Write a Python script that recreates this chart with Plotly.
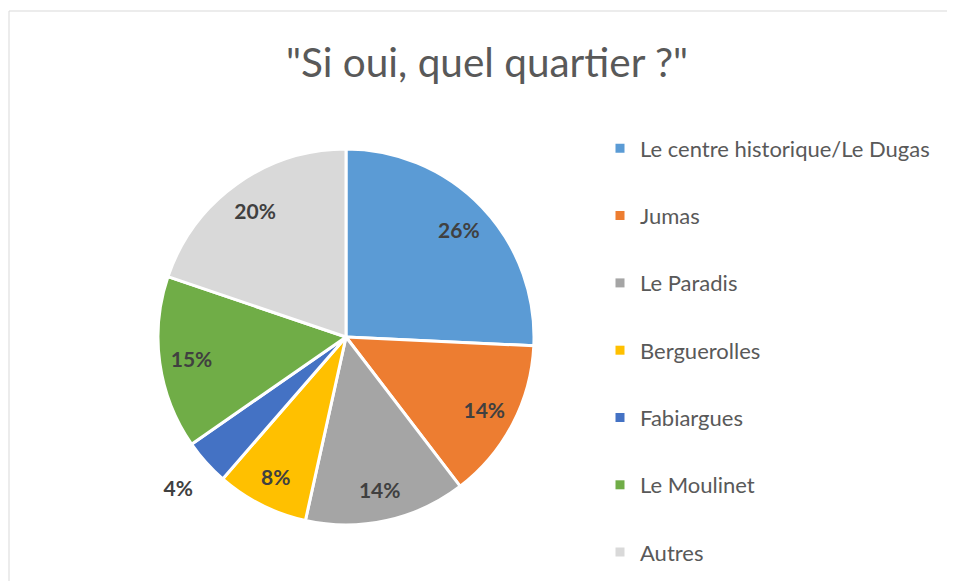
import plotly.graph_objects as go

labels = ["Le centre historique/Le Dugas", "Jumas", "Le Paradis", "Berguerolles",
          "Fabiargues", "Le Moulinet", "Autres"]
values = [26, 14, 14, 8, 4, 15, 20]
colors = ["#5B9BD5", "#ED7D31", "#A5A5A5", "#FFC000", "#4472C4", "#70AD47", "#D9D9D9"]
text_pos = ["inside", "inside", "inside", "inside", "outside", "inside", "inside"]

W, H = 947, 573  # page body has an 8px margin
FONT = "Lato"

cx, cy, R = 338, 329, 188
dom = dict(x=[(cx - R) / W, (cx + R) / W], y=[1 - (cy + R) / H, 1 - (cy - R) / H])

# the outside label gets a blank first line so it sits a little further from the pie
templates = ["\u00a0<br>%{percent:.0%}" if p == "outside" else "%{percent:.0%}" for p in text_pos]

fig = go.Figure()
# filled pie
fig.add_trace(go.Pie(
    labels=labels, values=values, sort=False, direction="clockwise", rotation=0,
    marker=dict(colors=colors, line=dict(color="white", width=3)),
    textinfo="none", showlegend=False, hoverinfo="label+percent", domain=dom,
))
# transparent ring carrying the data labels (places them further out, like the original)
fig.add_trace(go.Pie(
    labels=labels, values=values, sort=False, direction="clockwise", rotation=0,
    hole=0.66,
    marker=dict(colors=["rgba(0,0,0,0)"] * len(labels), line=dict(width=0)),
    texttemplate=templates, textposition=text_pos,
    insidetextorientation="horizontal",
    textfont=dict(family=FONT, size=21, color="#404040", weight="bold"),
    showlegend=False, hoverinfo="skip", domain=dom,
))

for i, (lab, col) in enumerate(zip(labels, colors)):
    fig.add_trace(go.Scatter(
        x=[None], y=[None], mode="markers", name=lab, legendgroup=f"g{i}",
        marker=dict(symbol="square", size=9, color=col),
        showlegend=True,
    ))

fig.update_layout(
    width=W, height=H,
    margin=dict(l=0, r=0, t=0, b=0),
    paper_bgcolor="white", plot_bgcolor="white",
    title=dict(text='"Si oui, quel quartier ?"', x=479 / W, xanchor="center",
               y=1 - 55 / H, yanchor="middle",
               font=dict(family=FONT, size=40.5, color="#595959")),
    xaxis=dict(visible=False), yaxis=dict(visible=False),
    legend=dict(x=592 / W, xanchor="left", y=1 - 119.5 / H, yanchor="top",
                font=dict(family=FONT, size=22, color="#595959"),
                tracegroupgap=35.7, traceorder="grouped",
                bgcolor="rgba(0,0,0,0)"),
    shapes=[dict(type="rect", xref="paper", yref="paper",
                 x0=1 / W, x1=1.05, y0=-0.05, y1=1 - 3 / H,
                 line=dict(color="#D9D9D9", width=1))],
)

fig.write_html("out.html")
